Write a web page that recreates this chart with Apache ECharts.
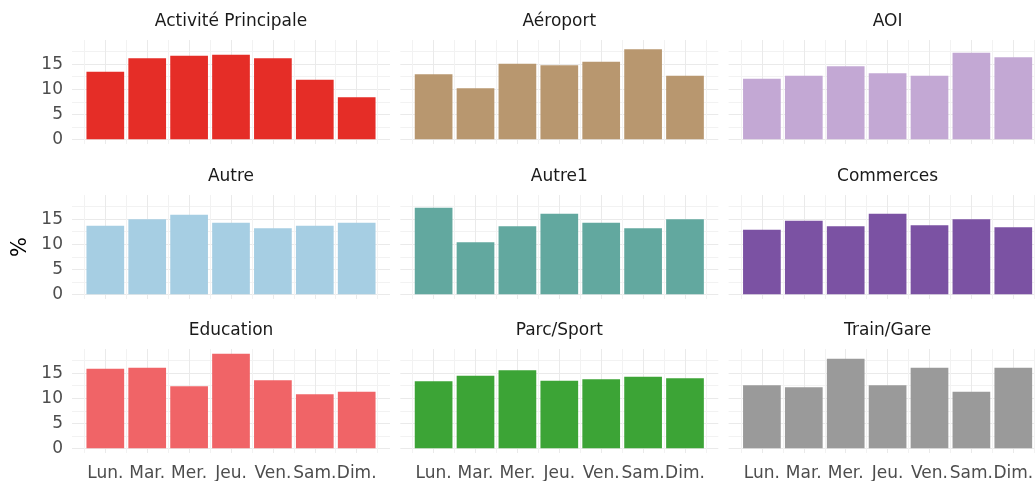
<!DOCTYPE html>
<html>
<head>
<meta charset="utf-8">
<script src="https://cdn.jsdelivr.net/npm/echarts@6/dist/echarts.min.js"></script>
<style>
  html, body { margin: 0; padding: 0; background: #ffffff; }
  #chart { width: 1035px; height: 481px; }
</style>
</head>
<body>
<div id="chart"></div>
<script>
// Weekly distribution (%) of visits per place type
const days = ['Lun.', 'Mar.', 'Mer.', 'Jeu.', 'Ven.', 'Sam.', 'Dim.'];
const facets = ['Activité Principale', 'Aéroport', 'AOI', 'Autre', 'Autre1', 'Commerces', 'Education', 'Parc/Sport', 'Train/Gare'];

const activitePrincipale = [13.5, 16.2, 16.7, 16.9, 16.2, 11.9, 8.4];
const aeroport           = [13.0, 10.2, 15.1, 14.8, 15.5, 18.0, 12.7];
const aoi                = [12.1, 12.7, 14.6, 13.2, 12.7, 17.3, 16.4];
const autre              = [13.7, 15.0, 15.9, 14.3, 13.2, 13.7, 14.3];
const autre1             = [17.3, 10.4, 13.6, 16.1, 14.3, 13.2, 15.0];
const commerces          = [12.9, 14.7, 13.6, 16.1, 13.8, 15.0, 13.4];
const education          = [15.9, 16.1, 12.4, 18.9, 13.6, 10.8, 11.3];
const parcSport          = [13.4, 14.5, 15.6, 13.5, 13.8, 14.3, 14.0];
const trainGare          = [12.6, 12.2, 17.9, 12.6, 16.1, 11.3, 16.1];

const yTicks = [0, 5, 10, 15];
const yGrid = [0, 2.5, 5, 7.5, 10, 12.5, 15, 17.5];

const seriesValues = [activitePrincipale, aeroport, aoi, autre, autre1, commerces, education, parcSport, trainGare];
const colors = ['#E52D27', '#B8976F', '#C3A8D4', '#A6CEE3', '#62A89F', '#7B52A3', '#F06467', '#3CA436', '#9A9A9A'];

// Layout of the 3 x 3 panel grid (pixels)
const colLeft = [72, 400.3, 728.6];
const rowTop = [40, 195, 349];
const panelW = 318;
const panelH = 104;

// Shared scales, ggplot-like expansion
const positions = days.map((d, i) => i + 1);
const barFrac = 0.9;
const xLo = 1 - barFrac / 2, xHi = days.length + barFrac / 2;
const xPad = 0.05 * (xHi - xLo);
const xMin = xLo - xPad, xMax = xHi + xPad;
const xGrid = [];
for (let v = 0.5; v <= days.length + 0.5; v += 0.5) xGrid.push(v);

const allMax = Math.max(...seriesValues.flat());
const yPad = 0.05 * allMax;
const yMin = -yPad, yMax = allMax + yPad;

const FONT = 'DejaVu Sans';
const grids = [], xAxes = [], yAxes = [], series = [], graphics = [];

facets.forEach((name, k) => {
  const r = Math.floor(k / 3), c = k % 3;
  grids.push({
    left: colLeft[c], top: rowTop[r], width: panelW, height: panelH,
    containLabel: false, outerBoundsMode: 'none'
  });
  xAxes.push({
    type: 'value', gridIndex: k, min: xMin, max: xMax,
    axisLine: { show: false },
    axisTick: { show: false, customValues: xGrid },
    axisLabel: {
      show: r === 2, customValues: positions, margin: 12,
      fontFamily: FONT, fontSize: 17, color: '#4D4D4D',
      formatter: v => days[Math.round(v) - 1]
    },
    splitLine: { show: true, lineStyle: { color: ['#F2F2F2', '#EAEAEA'], width: 1 } }
  });
  yAxes.push({
    type: 'value', gridIndex: k, min: yMin, max: yMax,
    axisLine: { show: false },
    axisTick: { show: false, customValues: yGrid },
    axisLabel: {
      show: c === 0, customValues: yTicks, margin: 9,
      fontFamily: FONT, fontSize: 17, color: '#4D4D4D'
    },
    splitLine: { show: true, lineStyle: { color: ['#EAEAEA', '#F2F2F2'], width: 1 } }
  });
  series.push({
    type: 'bar', xAxisIndex: k, yAxisIndex: k,
    barWidth: (barFrac * 100) + '%',
    itemStyle: { color: colors[k] },
    data: positions.map((p, i) => [p, seriesValues[k][i]]),
    silent: true, animation: false
  });
  graphics.push({
    type: 'text',
    x: colLeft[c] + panelW / 2, y: rowTop[r] - 18.5,
    style: {
      text: name, fontFamily: FONT, fontSize: 17, fill: '#1A1A1A',
      align: 'center', verticalAlign: 'middle'
    }
  });
});

graphics.push({
  type: 'text', x: 21, y: 247, rotation: Math.PI / 2,
  style: {
    text: '%', fontFamily: FONT, fontSize: 21, fill: '#000000',
    align: 'center', verticalAlign: 'middle'
  }
});

const chart = echarts.init(document.getElementById('chart'), null, { renderer: 'canvas' });
chart.setOption({
  backgroundColor: '#ffffff',
  animation: false,
  grid: grids,
  xAxis: xAxes,
  yAxis: yAxes,
  series: series,
  graphic: graphics
});
</script>
</body>
</html>
